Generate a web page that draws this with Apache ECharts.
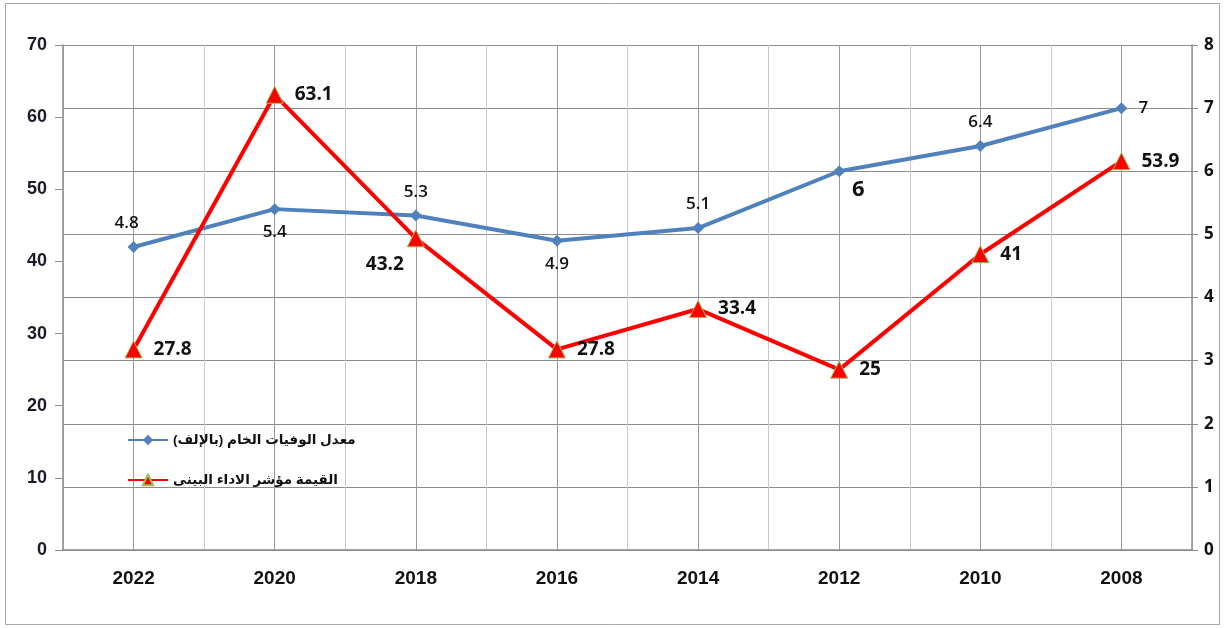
<!DOCTYPE html>
<html>
<head>
<meta charset="utf-8">
<script src="https://cdn.jsdelivr.net/npm/echarts@6/dist/echarts.min.js"></script>
<style>
  html, body { margin: 0; padding: 0; background: #fff; }
  #chart { width: 1224px; height: 628px; }
</style>
</head>
<body>
<div id="chart"></div>
<script>
// البيانات
var years = ['2022', '2020', '2018', '2016', '2014', '2012', '2010', '2008'];
var deathRate = [4.8, 5.4, 5.3, 4.9, 5.1, 6, 6.4, 7];          // المحور الأيمن
var envIndex = [27.8, 63.1, 43.2, 27.8, 33.4, 25, 41, 53.9];   // المحور الأيسر
var leftTicks = [0, 10, 20, 30, 40, 50, 60, 70];
var rightTicks = [0, 1, 2, 3, 4, 5, 6, 7, 8];
var nameDeath = 'معدل الوفيات الخام (بالإلف)';
var nameEnv = 'القيمة مؤشر الاداء البينى';

var font = 'Arial, "Liberation Sans", "DejaVu Sans", sans-serif';
var font2 = '"Open Sans", Calibri, sans-serif';

// مواضع عناوين القيم
var blueLabelPos = ['top', 'bottom', 'top', 'bottom', 'top', 'bottom', 'top', 'right'];
var redLabelPos = ['right', 'right', 'left', 'right', 'right', 'right', 'right', 'right'];

var chart = echarts.init(document.getElementById('chart'));

var blueData = deathRate.map(function (v, i) {
  var item = { value: v, label: { position: blueLabelPos[i] } };
  if (i === 0) item.label.offset = [-7, 0];
  if (i === 5) {
    item.label = { position: 'bottom', offset: [19, -8], fontSize: 22, fontWeight: 'bold' };
  }
  if (i === 7) item.label.offset = [2, 0];
  return item;
});
var redData = envIndex.map(function (v, i) {
  var item = { value: v, label: { position: redLabelPos[i], offset: [2, 0] } };
  if (i === 2) item.label = { position: 'left', offset: [6, 26] };
  return item;
});

// محور مساعد لخطوط الشبكة العمودية (منتصف الفئة والحدود)
var halfCats = [];
years.forEach(function (y) { halfCats.push(y + 'a', y + 'b'); });

var option = {
  backgroundColor: '#fff',
  animation: false,
  graphic: [{
    type: 'rect',
    shape: { x: 5.5, y: 3.5, width: 1214, height: 621 },
    style: { fill: 'none', stroke: '#a6a6a6', lineWidth: 1 },
    silent: true
  }],
  grid: { left: 63, right: 32, top: 45, bottom: 78 },
  legend: {
    orient: 'vertical',
    left: 122,
    top: 428,
    itemGap: 26,
    itemWidth: 40,
    itemHeight: 13,
    textStyle: { fontFamily: font, fontSize: 13.5, fontWeight: 'bold', color: '#111' },
    data: [nameDeath, nameEnv]
  },
  xAxis: [{
    type: 'category',
    data: years,
    boundaryGap: true,
    axisLine: { lineStyle: { color: '#8c8c8c', width: 1.5 } },
    axisTick: { show: false },
    axisLabel: { margin: 19, fontFamily: font, fontSize: 19, fontWeight: 'bold', color: '#111' },
    splitLine: { show: true, lineStyle: { color: '#9a9a9a', width: 1 } }
  }, {
    type: 'category',
    data: halfCats,
    position: 'bottom',
    boundaryGap: true,
    axisLine: { show: false },
    axisTick: { show: false },
    axisLabel: { show: false },
    splitLine: { show: true, lineStyle: { color: ['#c9c9c9', '#9a9a9a'], width: 1 } }
  }],
  yAxis: [{
    type: 'value',
    min: leftTicks[0],
    max: leftTicks[leftTicks.length - 1],
    interval: 10,
    position: 'left',
    axisLine: { show: true, lineStyle: { color: '#8c8c8c', width: 1.5 } },
    axisTick: { show: true, length: 8, lineStyle: { color: '#8c8c8c' } },
    axisLabel: { margin: 16, fontFamily: font, fontSize: 18, fontWeight: 'bold', color: '#1a1a2a' },
    splitLine: { show: false }
  }, {
    type: 'value',
    min: rightTicks[0],
    max: rightTicks[rightTicks.length - 1],
    interval: 1,
    position: 'right',
    axisLine: { show: true, lineStyle: { color: '#8c8c8c', width: 1.5 } },
    axisTick: { show: true, length: 6, lineStyle: { color: '#8c8c8c' } },
    axisLabel: { margin: 12, fontFamily: font2, fontSize: 17, fontWeight: 'bold', color: '#111' },
    splitLine: { show: true, lineStyle: { color: '#8c8c8c', width: 1 } }
  }],
  series: [{
    name: nameDeath,
    type: 'line',
    yAxisIndex: 1,
    data: blueData,
    symbol: 'diamond',
    symbolSize: 12,
    itemStyle: { color: '#4f81bd' },
    lineStyle: { color: '#4f81bd', width: 4 },
    label: {
      show: true,
      distance: 9,
      fontFamily: font2,
      fontSize: 17,
      fontWeight: 600,
      color: '#111'
    },
    z: 3
  }, {
    name: nameEnv,
    type: 'line',
    yAxisIndex: 0,
    data: redData,
    symbol: 'triangle',
    symbolSize: 17,
    itemStyle: { color: '#ff0000', borderColor: '#9bbb59', borderWidth: 1 },
    lineStyle: { color: '#ff0000', width: 4 },
    label: {
      show: true,
      distance: 9,
      fontFamily: font2,
      fontSize: 19,
      fontWeight: 'bold',
      color: '#111'
    },
    z: 4
  }]
};

chart.setOption(option);
</script>
</body>
</html>
